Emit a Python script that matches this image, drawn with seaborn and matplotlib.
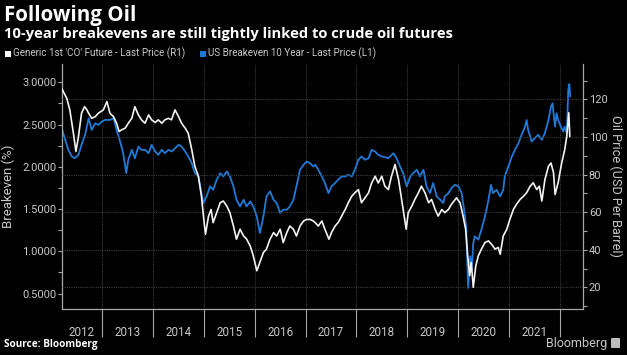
import matplotlib
matplotlib.use("Agg")
import matplotlib.pyplot as plt
import seaborn as sns
import pandas as pd
from matplotlib.patches import Rectangle, FancyBboxPatch

# ---------------- data ----------------
oil_year = [2012.20, 2012.30, 2012.36, 2012.43, 2012.48, 2012.53, 2012.59, 2012.65, 2012.69, 2012.73,
            2012.79, 2012.86, 2012.92, 2013.02, 2013.09, 2013.15, 2013.22, 2013.28, 2013.33, 2013.38,
            2013.45, 2013.51, 2013.58, 2013.64, 2013.71, 2013.77, 2013.84, 2013.91, 2013.97, 2014.04,
            2014.10, 2014.17, 2014.23, 2014.30, 2014.36, 2014.43, 2014.50, 2014.56, 2014.63, 2014.69,
            2014.76, 2014.82, 2014.89, 2014.95, 2014.99, 2015.03, 2015.09, 2015.14, 2015.18, 2015.25,
            2015.32, 2015.38, 2015.45, 2015.51, 2015.58, 2015.64, 2015.71, 2015.78, 2015.84, 2015.91,
            2015.97, 2016.04, 2016.10, 2016.17, 2016.23, 2016.30, 2016.37, 2016.43, 2016.50, 2016.56,
            2016.63, 2016.69, 2016.76, 2016.82, 2016.89, 2016.96, 2017.02, 2017.09, 2017.15, 2017.19,
            2017.25, 2017.32, 2017.38, 2017.46, 2017.51, 2017.58, 2017.64, 2017.71, 2017.78, 2017.84,
            2017.91, 2017.97, 2018.04, 2018.10, 2018.17, 2018.24, 2018.30, 2018.37, 2018.43, 2018.50,
            2018.56, 2018.63, 2018.69, 2018.76, 2018.83, 2018.88, 2018.92, 2018.98, 2019.02, 2019.09,
            2019.15, 2019.22, 2019.28, 2019.35, 2019.42, 2019.48, 2019.55, 2019.61, 2019.68, 2019.74,
            2019.81, 2019.87, 2019.97, 2020.04, 2020.10, 2020.15, 2020.19, 2020.23, 2020.26, 2020.30,
            2020.35, 2020.40, 2020.46, 2020.53, 2020.60, 2020.66, 2020.73, 2020.79, 2020.83, 2020.89,
            2020.96, 2021.02, 2021.09, 2021.15, 2021.22, 2021.29, 2021.35, 2021.42, 2021.48, 2021.55,
            2021.60, 2021.65, 2021.71, 2021.78, 2021.83, 2021.88, 2021.91, 2021.97, 2022.04, 2022.10,
            2022.14, 2022.18, 2022.20]
oil_price = [125.8, 120.5, 114.4, 102.0, 92.3, 100.2, 112.6, 116.1, 114.7, 112.6,
             109.9, 110.8, 112.6, 114.4, 118.8, 112.6, 110.8, 107.3, 102.9, 103.8,
             104.7, 107.3, 109.9, 116.1, 111.7, 109.1, 107.3, 111.7, 109.1, 107.7,
             109.1, 107.3, 109.1, 109.9, 109.1, 114.4, 110.8, 107.3, 104.7, 102.0,
             93.2, 84.4, 79.1, 68.5, 57.9, 48.2, 57.9, 61.4, 54.4, 59.7,
             65.0, 65.9, 63.2, 59.7, 52.6, 45.6, 50.9, 47.3, 45.6, 42.0,
             36.8, 28.8, 33.2, 38.5, 40.3, 45.6, 49.1, 47.3, 50.9, 43.8,
             49.1, 52.6, 50.9, 47.3, 52.6, 55.3, 56.1, 56.1, 55.3, 54.4,
             52.6, 55.3, 50.9, 45.6, 49.1, 52.6, 54.4, 57.9, 61.4, 65.0,
             68.5, 70.3, 72.0, 65.0, 67.6, 70.3, 75.5, 79.1, 75.5, 79.1,
             73.8, 72.0, 79.1, 85.3, 77.3, 68.5, 61.4, 50.9, 59.7, 63.2,
             66.7, 70.3, 73.8, 70.3, 65.0, 66.7, 61.4, 57.9, 61.4, 59.7,
             61.4, 64.1, 67.6, 65.0, 57.9, 50.9, 36.8, 26.2, 33.2, 20.0,
             31.5, 36.8, 40.3, 43.8, 44.7, 42.9, 40.3, 41.2, 37.6, 47.3,
             50.9, 56.1, 61.4, 64.1, 66.7, 68.5, 70.3, 73.8, 75.6, 72.0,
             73.8, 65.9, 77.3, 84.4, 86.1, 80.9, 69.4, 75.6, 86.1, 93.2,
             100.2, 112.9, 100.2]

be_year = [2012.20, 2012.27, 2012.33, 2012.40, 2012.46, 2012.53, 2012.59, 2012.66, 2012.73, 2012.79,
           2012.86, 2012.92, 2012.99, 2013.05, 2013.15, 2013.22, 2013.28, 2013.35, 2013.41, 2013.47,
           2013.51, 2013.58, 2013.64, 2013.71, 2013.77, 2013.84, 2013.91, 2013.97, 2014.04, 2014.10,
           2014.17, 2014.23, 2014.30, 2014.37, 2014.43, 2014.50, 2014.56, 2014.63, 2014.69, 2014.76,
           2014.82, 2014.89, 2014.95, 2014.99, 2015.05, 2015.12, 2015.18, 2015.25, 2015.32, 2015.38,
           2015.45, 2015.51, 2015.58, 2015.64, 2015.71, 2015.78, 2015.84, 2015.91, 2015.97, 2016.04,
           2016.10, 2016.17, 2016.23, 2016.30, 2016.37, 2016.43, 2016.50, 2016.56, 2016.63, 2016.69,
           2016.76, 2016.82, 2016.89, 2016.96, 2017.02, 2017.09, 2017.15, 2017.19, 2017.25, 2017.32,
           2017.38, 2017.45, 2017.51, 2017.58, 2017.64, 2017.71, 2017.78, 2017.84, 2017.91, 2017.97,
           2018.04, 2018.10, 2018.17, 2018.24, 2018.30, 2018.37, 2018.43, 2018.50, 2018.56, 2018.63,
           2018.73, 2018.79, 2018.86, 2018.92, 2018.99, 2019.06, 2019.12, 2019.19, 2019.25, 2019.32,
           2019.38, 2019.45, 2019.51, 2019.58, 2019.65, 2019.71, 2019.74, 2019.81, 2019.87, 2019.94,
           2020.01, 2020.07, 2020.12, 2020.16, 2020.18, 2020.20, 2020.24, 2020.27, 2020.30, 2020.33,
           2020.40, 2020.46, 2020.53, 2020.60, 2020.65, 2020.69, 2020.76, 2020.83, 2020.89, 2020.92,
           2020.99, 2021.06, 2021.12, 2021.19, 2021.25, 2021.32, 2021.35, 2021.38, 2021.45, 2021.51,
           2021.58, 2021.65, 2021.71, 2021.78, 2021.83, 2021.86, 2021.88, 2021.91, 2021.94, 2021.97,
           2022.01, 2022.04, 2022.07, 2022.10, 2022.14, 2022.17, 2022.19, 2022.21]
be_rate = [2.457, 2.319, 2.201, 2.122, 2.102, 2.142, 2.260, 2.378, 2.575, 2.437,
           2.516, 2.496, 2.535, 2.555, 2.555, 2.575, 2.437, 2.299, 2.161, 1.925,
           2.083, 2.201, 2.102, 2.240, 2.201, 2.201, 2.161, 2.260, 2.181, 2.142,
           2.201, 2.161, 2.201, 2.181, 2.220, 2.260, 2.240, 2.181, 2.122, 2.043,
           1.925, 1.886, 1.689, 1.571, 1.650, 1.768, 1.728, 1.847, 1.925, 1.886,
           1.945, 1.886, 1.768, 1.610, 1.531, 1.610, 1.531, 1.591, 1.531, 1.413,
           1.217, 1.413, 1.650, 1.709, 1.610, 1.571, 1.453, 1.492, 1.492, 1.531,
           1.610, 1.768, 1.965, 2.024, 2.063, 2.043, 2.004, 2.024, 1.965, 1.886,
           1.807, 1.689, 1.768, 1.807, 1.847, 1.886, 1.886, 1.906, 1.886, 1.965,
           2.083, 2.122, 2.083, 2.102, 2.201, 2.181, 2.142, 2.122, 2.114, 2.102,
           2.161, 2.102, 2.004, 1.925, 1.768, 1.886, 1.925, 1.965, 1.886, 1.965,
           1.768, 1.689, 1.807, 1.650, 1.610, 1.571, 1.650, 1.689, 1.748, 1.787,
           1.768, 1.689, 1.492, 1.295, 0.941, 0.567, 0.941, 0.783, 1.098, 1.177,
           1.138, 1.256, 1.413, 1.610, 1.787, 1.689, 1.728, 1.650, 1.728, 1.886,
           2.004, 2.122, 2.201, 2.280, 2.378, 2.476, 2.555, 2.437, 2.299, 2.339,
           2.378, 2.319, 2.398, 2.555, 2.713, 2.752, 2.634, 2.476, 2.634, 2.555,
           2.496, 2.457, 2.417, 2.476, 2.398, 2.910, 2.980, 2.831]

year_labels = ["2012", "2013", "2014", "2015", "2016", "2017", "2018", "2019", "2020", "2021"]
be_ticks = [0.5, 1.0, 1.5, 2.0, 2.5, 3.0]
oil_ticks = [20, 40, 60, 80, 100, 120]

title = "Following Oil"
subtitle = "10-year breakevens are still tightly linked to crude oil futures"
oil_name = "Generic 1st 'CO' Future - Last Price (R1)"
be_name = "US Breakeven 10 Year - Last Price (L1)"

# ---------------- style ----------------
BG = "#000000"
TXT = "#c8c8c8"
SPINE = "#a8a8a8"
GRID = "#3c3c3c"
BLUE = "#1f7ad8"
WHITE = "#f4f4f4"

sns.set_theme(style="dark", rc={"axes.facecolor": BG, "figure.facecolor": BG,
                                "savefig.facecolor": BG})
plt.rcParams['font.family'] = ['Roboto', 'DejaVu Sans']

W, H = 627, 355
fig = plt.figure(figsize=(W / 100, H / 100), dpi=100)
L, R, T, B = 61.7, 582.5, 64, 309
ax = fig.add_axes([L / W, 1 - B / H, (R - L) / W, (B - T) / H])
ax2 = ax.twinx()

df_be = pd.DataFrame({"year": be_year, "rate": be_rate})
df_oil = pd.DataFrame({"year": oil_year, "price": oil_price})
sns.lineplot(data=df_be, x="year", y="rate", ax=ax, color=BLUE, linewidth=1.3)
sns.lineplot(data=df_oil, x="year", y="price", ax=ax2, color=WHITE, linewidth=1.2)

xmin, xmax = 2012.20, 2022.45
ax.set_xlim(xmin, xmax)
ax.set_ylim(0.317, 3.217)
ax2.set_ylim(8.46, 138.8)

# x axis: year boundaries as long ticks, labels centred in each year
bounds = list(range(2013, 2023))
ax.set_xticks(bounds)
ax.set_xticklabels([""] * len(bounds))
label_pos = [(max(int(y), xmin) + min(int(y) + 1, xmax)) / 2 for y in year_labels]
ax.set_xticks(label_pos, minor=True)
ax.set_xticklabels(year_labels, minor=True)
ax.tick_params(axis="x", which="major", length=20, width=0.8, color=SPINE, bottom=True)
ax.tick_params(axis="x", which="minor", length=0, pad=12, labelsize=8.4, labelcolor=TXT, bottom=True)

# left axis
ax.set_yticks(be_ticks)
ax.set_yticklabels([f"{v:.4f}" for v in be_ticks])
ax.set_yticks([v + 0.25 for v in be_ticks[:-1]], minor=True)
ax.tick_params(axis="y", which="both", length=3, width=0.8, color=SPINE, pad=1,
               labelsize=8, labelcolor=TXT, left=True)

# right axis
ax2.set_yticks(oil_ticks)
ax2.set_yticklabels([str(v) for v in oil_ticks])
ax2.set_yticks([v - 10 for v in oil_ticks] + [oil_ticks[-1] + 10], minor=True)
ax2.tick_params(axis="y", which="both", length=3, width=0.8, color=SPINE, pad=1.5,
                labelsize=8, labelcolor=TXT, right=True)

# grids
ax.grid(False)
ax2.grid(False)
ax.xaxis.grid(True, which="major", color=GRID, linestyle=(0, (1, 1)), linewidth=0.8)
ax2.yaxis.grid(True, which="major", color=GRID, linestyle=(0, (1, 1)), linewidth=0.8)
ax2.set_axisbelow(True)

for a in (ax, ax2):
    for s in a.spines.values():
        s.set_visible(False)
ax.spines["left"].set_visible(True)
ax.spines["bottom"].set_visible(True)
ax2.spines["right"].set_visible(True)
for s in (ax.spines["left"], ax.spines["bottom"], ax2.spines["right"]):
    s.set_color(SPINE)
    s.set_linewidth(0.9)

ax.set_xlabel("")
ax.set_ylabel("Breakeven (%)", color=TXT, fontsize=9.5, labelpad=5)
ax2.set_ylabel("Oil Price (USD Per Barrel)", color=TXT, fontsize=9.2, rotation=270, labelpad=11)

# ---------------- header / footer ----------------
fig.text(4 / W, 1 - 15 / H, title, color="white", fontsize=14.8, fontweight="bold",
         family=["Open Sans", "DejaVu Sans"], va="center", ha="left")
fig.text(4 / W, 1 - 34 / H, subtitle, color="white", fontsize=10.6, fontweight="bold",
         family=["Open Sans", "DejaVu Sans"], va="center", ha="left")

fig.patches.append(Rectangle((5 / W, 1 - 57 / H), 6 / W, 6 / H, transform=fig.transFigure,
                             facecolor="white", edgecolor="none"))
fig.text(13 / W, 1 - 53.5 / H, oil_name, color=TXT, fontsize=7.1, va="center", ha="left")
fig.patches.append(Rectangle((200 / W, 1 - 57 / H), 6 / W, 6 / H, transform=fig.transFigure,
                             facecolor=BLUE, edgecolor="none"))
fig.text(208 / W, 1 - 53.5 / H, be_name, color=TXT, fontsize=7.1, va="center", ha="left")

fig.text(4 / W, 1 - 345 / H, "Source: Bloomberg", color="white", fontsize=7.2, fontweight="bold",
         family=["Open Sans", "DejaVu Sans"], va="center", ha="left")
fig.text(607 / W, 1 - 343 / H, "Bloomberg", color=TXT, fontsize=9, va="center", ha="right")
fig.patches.append(FancyBboxPatch((611 / W, 1 - 348 / H), 9 / W, 10 / H,
                                  boxstyle="round,pad=0,rounding_size=0.002",
                                  transform=fig.transFigure, facecolor="#bdbdbd", edgecolor="none"))

fig.savefig("out.png", dpi=100, facecolor=BG)
